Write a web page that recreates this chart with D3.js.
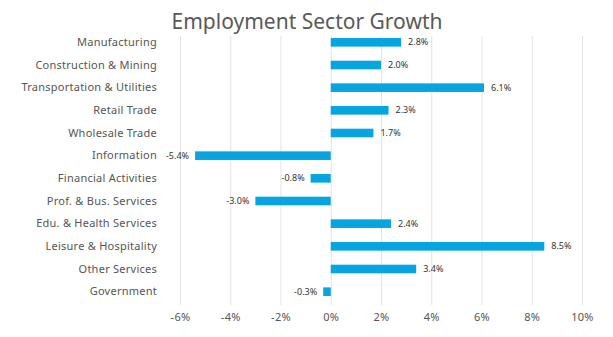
<!DOCTYPE html>
<html>
<head>
<meta charset="utf-8">
<script src="https://cdn.jsdelivr.net/npm/d3@7"></script>
<style>
  html, body { margin: 0; padding: 0; background: #fff; }
  svg text { font-family: "Noto Sans", "Open Sans", sans-serif; }
</style>
</head>
<body>
<svg id="chart" width="613" height="337"></svg>
<script>
const sectors = [
  "Manufacturing", "Construction & Mining", "Transportation & Utilities",
  "Retail Trade", "Wholesale Trade", "Information", "Financial Activities",
  "Prof. & Bus. Services", "Edu. & Health Services", "Leisure & Hospitality",
  "Other Services", "Government"
];
const growth = [2.8, 2.0, 6.1, 2.3, 1.7, -5.4, -0.8, -3.0, 2.4, 8.5, 3.4, -0.3];
const tickValues = [-6, -4, -2, 0, 2, 4, 6, 8, 10];

const svg = d3.select("#chart");
const margin = { top: 31, right: 31, bottom: 34, left: 180 };
const W = 613, H = 337;

const x = d3.scaleLinear()
  .domain([-6, 10])
  .range([margin.left, W - margin.right]);

const y = d3.scaleBand()
  .domain(sectors)
  .range([margin.top, H - margin.bottom])
  .paddingInner(0.62)
  .paddingOuter(0.31);

// title
svg.append("text")
  .attr("x", 307)
  .attr("y", 29)
  .attr("text-anchor", "middle")
  .attr("fill", "#595959")
  .style("font-size", "21px")
  .text("Employment Sector Growth");

// vertical gridlines
svg.append("g")
  .selectAll("line")
  .data(tickValues)
  .join("line")
  .attr("x1", d => x(d) + 0.5)
  .attr("x2", d => x(d) + 0.5)
  .attr("y1", 36)
  .attr("y2", 305)
  .attr("stroke", "#e3e3e3")
  .attr("stroke-width", 1);

// x axis labels
const xAxis = d3.axisBottom(x)
  .tickValues(tickValues)
  .tickFormat(d => d + "%")
  .tickSize(0)
  .tickPadding(0);

const gx = svg.append("g")
  .attr("transform", `translate(0, 313)`)
  .call(xAxis);
gx.select(".domain").remove();
gx.selectAll("text")
  .attr("fill", "#555")
  .style("font-size", "11px")
  .style("letter-spacing", "0.3px")
  .attr("dy", "0.71em");

// category labels
const yAxis = d3.axisLeft(y).tickSize(0).tickPadding(0);
const gy = svg.append("g")
  .attr("transform", `translate(157, 0)`)
  .call(yAxis);
gy.select(".domain").remove();
gy.selectAll("text")
  .attr("fill", "#555")
  .style("font-size", "11px")
  .style("letter-spacing", "0.25px");

// bars
svg.append("g")
  .selectAll("rect")
  .data(sectors)
  .join("rect")
  .attr("x", (d, i) => Math.min(x(0), x(growth[i])))
  .attr("width", (d, i) => Math.abs(x(growth[i]) - x(0)))
  .attr("y", d => y(d))
  .attr("height", y.bandwidth())
  .attr("fill", "#07a5e0");

// value labels
svg.append("g")
  .selectAll("text")
  .data(sectors)
  .join("text")
  .attr("x", (d, i) => growth[i] >= 0 ? x(growth[i]) + 7 : x(growth[i]) - 6)
  .attr("y", d => y(d) + y.bandwidth() / 2)
  .attr("dy", "0.35em")
  .attr("text-anchor", (d, i) => growth[i] >= 0 ? "start" : "end")
  .attr("fill", "#333")
  .style("font-size", "9px")
  .text((d, i) => growth[i].toFixed(1) + "%");
</script>
</body>
</html>
